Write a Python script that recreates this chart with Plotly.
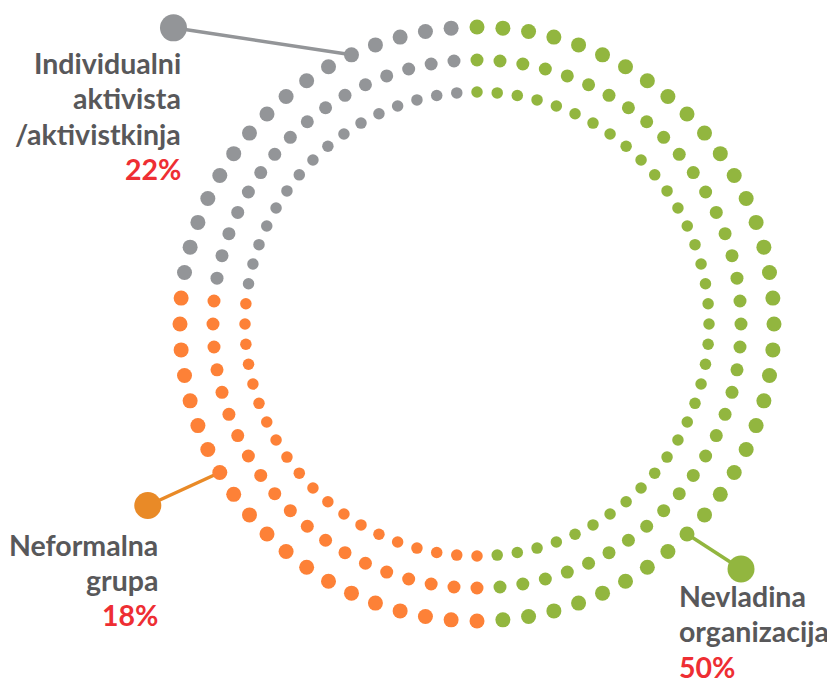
import numpy as np
import plotly.graph_objects as go

# ---- data ----
categories = ["Nevladina organizacija", "Neformalna grupa", "Individualni aktivista /aktivistkinja"]
label_lines = [["Nevladina", "organizacija"], ["Neformalna", "grupa"], ["Individualni", "aktivista", "/aktivistkinja"]]
percentages = [50, 18, 22]
dots_per_category = [36, 20, 16]          # dots of each category on every ring (72 per ring)
callout_dot_index = [27, 48, 67]          # which outer-ring dot each callout points to

# ---- styling / layout ----
W, H = 835, 680
PAGE_OFFSET = 8                            # default body margin of the html page
CX, CY = 477, 324
ring_radii = [297, 264, 232]
ring_dot_sizes = [15, 13, 11.5]
dot_colors = ["#92B63F", "#FD8137", "#939598"]
callout_colors = ["#92B63F", "#E98A27", "#939598"]
callout_offsets = [(54, 35), (-72, 33), (-178, -27)]
TEXT = "#58585A"
RED = "#EE2E33"
FONT = "Lato"
FONT_SIZE = 28.5
LINE_GAP = 35.3
label_anchor = [(677, 596, "left"), (160, 544.5, "right"), (183, 63, "right")]  # x, first-line y, align

total = sum(dots_per_category)
step = 360.0 / total

fig = go.Figure()

def pos(r, idx):
    th = np.deg2rad(idx * step)
    return CX + r * np.sin(th), CY - r * np.cos(th)

for r, s in zip(ring_radii, ring_dot_sizes):
    start = 0
    for ci, n in enumerate(dots_per_category):
        idx = np.arange(start, start + n)
        xs, ys = pos(r, idx)
        fig.add_trace(go.Scatter(x=xs, y=ys, mode="markers",
                                 marker=dict(size=s, color=dot_colors[ci], line=dict(width=0)),
                                 hoverinfo="skip", showlegend=False))
        start += n

# callouts
for ci in range(3):
    x0, y0 = pos(ring_radii[0], callout_dot_index[ci])
    x1, y1 = x0 + callout_offsets[ci][0], y0 + callout_offsets[ci][1]
    fig.add_shape(type="line", x0=x0, y0=y0, x1=x1, y1=y1, layer="below",
                  line=dict(color=callout_colors[ci], width=3.5))
    fig.add_trace(go.Scatter(x=[x1], y=[y1], mode="markers",
                             marker=dict(size=27, color=callout_colors[ci], line=dict(width=0)),
                             hoverinfo="skip", showlegend=False))
    lx, ly, al = label_anchor[ci]
    lines = label_lines[ci] + [f"{percentages[ci]}%"]
    for li, txt in enumerate(lines):
        color = RED if li == len(lines) - 1 else TEXT
        fig.add_annotation(x=lx, y=ly + li * LINE_GAP, text=txt, showarrow=False,
                           xanchor=al, yanchor="middle", align=al,
                           font=dict(family=FONT, size=FONT_SIZE, color=color, weight="bold"))

fig.update_layout(width=W, height=H, margin=dict(l=0, r=0, t=0, b=0),
                  paper_bgcolor="white", plot_bgcolor="white", showlegend=False,
                  xaxis=dict(range=[PAGE_OFFSET, W + PAGE_OFFSET], visible=False, fixedrange=True),
                  yaxis=dict(range=[H + PAGE_OFFSET, PAGE_OFFSET], visible=False, fixedrange=True))

fig.write_html("out.html")
